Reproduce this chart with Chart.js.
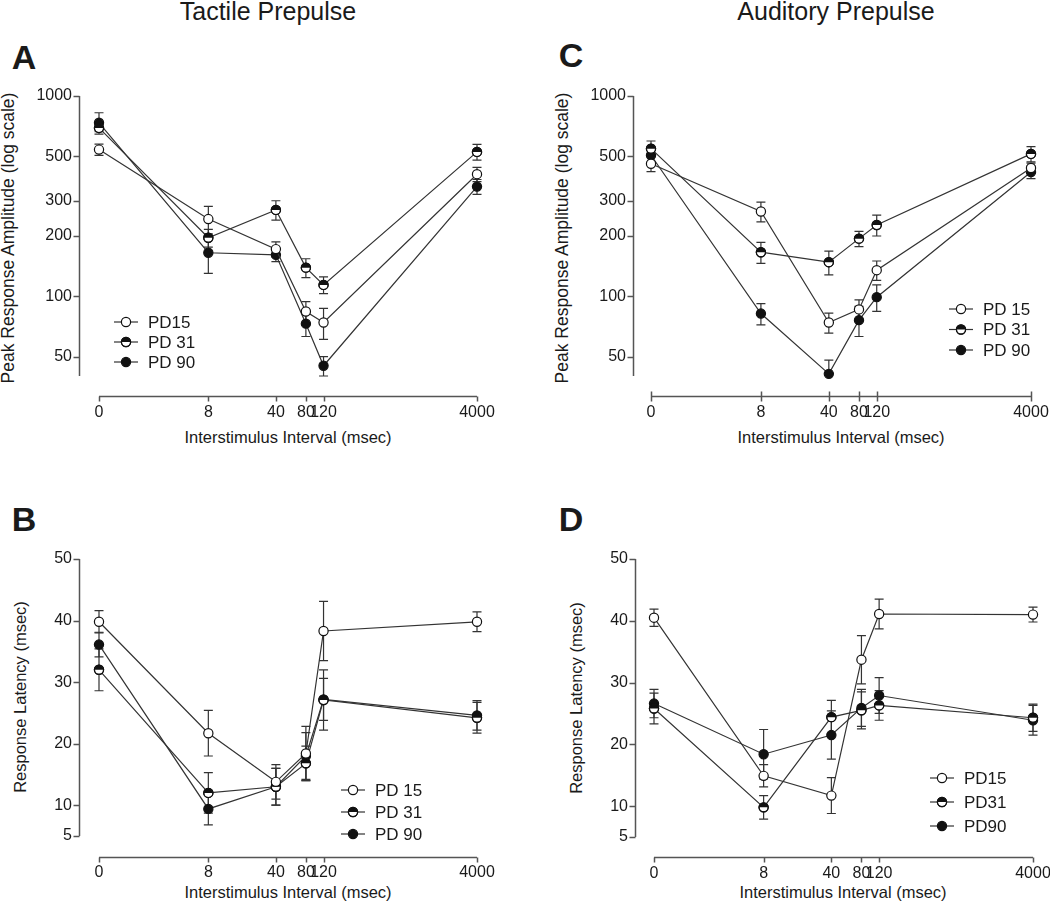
<!DOCTYPE html>
<html>
<head>
<meta charset="utf-8">
<script src="https://cdn.jsdelivr.net/npm/chart.js@4.4.1/dist/chart.umd.min.js"></script>
<style>
body { margin: 0; background: #fff; }
#fig { position: relative; width: 1050px; height: 905px; overflow: hidden;
       font-family: 'Liberation Sans', Arial, sans-serif; color: #1a1a1a; }
.cv { position: absolute; }
.t { position: absolute; white-space: nowrap; transform: translate(-50%, -50%); line-height: 1; }
.head { font-size: 25px; }
.let { font-size: 34px; font-weight: bold; }
.ax { font-size: 16.5px; }
.big { font-size: 17.5px; }
.rot { transform: translate(-50%, -50%) rotate(-90deg); }
</style>
</head>
<body>
<div id="fig">
  <div class="t head" style="left:268px;top:11px">Tactile Prepulse</div>
  <div class="t head" style="left:836px;top:11px">Auditory Prepulse</div>

  <div class="t let" style="left:24px;top:57px">A</div>
  <div class="t let" style="left:571px;top:55px">C</div>
  <div class="t let" style="left:24px;top:519px">B</div>
  <div class="t let" style="left:571px;top:519px">D</div>

  <div class="t ax big rot" style="left:9px;top:238px">Peak Response Amplitude (log scale)</div>
  <div class="t ax big rot" style="left:563px;top:238px">Peak Response Amplitude (log scale)</div>
  <div class="t ax rot" style="left:20px;top:697px">Response Latency (msec)</div>
  <div class="t ax rot" style="left:576px;top:698px">Response Latency (msec)</div>

  <div class="t ax" style="left:288px;top:437px">Interstimulus Interval (msec)</div>
  <div class="t ax" style="left:841px;top:437px">Interstimulus Interval (msec)</div>
  <div class="t ax" style="left:288px;top:892px">Interstimulus Interval (msec)</div>
  <div class="t ax" style="left:843px;top:892px">Interstimulus Interval (msec)</div>

  <canvas id="chA" class="cv"></canvas>
  <canvas id="chC" class="cv"></canvas>
  <canvas id="chB" class="cv"></canvas>
  <canvas id="chD" class="cv"></canvas>
</div>

<script>
// ====== Data ======
const isi = [0, 8, 40, 80, 120, 4000];
const ampTicks = [50, 100, 200, 300, 500, 1000];
const latTicks = [5, 10, 20, 30, 40, 50];

// A - tactile, peak amplitude
const tacAmp15 = [540, 243, 172, 84, 74, 407];
const tacAmp31 = [693, 196, 270, 139, 114, 526];
const tacAmp90 = [735, 165, 161, 73, 45, 353];
const tacAmp15Err = [35, 38, 15, 10, 13, 33];
const tacAmp31Err = [30, 20, 30, 15, 11, 48];
const tacAmp90Err = [90, 35, 12, 10, 5, 30];

// B - tactile, latency
const tacLat15 = [39.8, 21.7, 13.8, 18.4, 38.3, 39.8];
const tacLat31 = [32.0, 12.0, 13.0, 16.8, 27.1, 24.2];
const tacLat90 = [36.1, 9.4, 13.0, 18.0, 27.2, 24.6];
const tacLat15Err = [1.8, 3.7, 2.8, 4.4, 4.8, 1.6];
const tacLat31Err = [3.4, 3.3, 3.0, 2.8, 4.9, 2.5];
const tacLat90Err = [2.0, 2.6, 3.0, 3.8, 3.4, 2.4];

// C - auditory, peak amplitude
const audAmp15 = [459, 265, 74, 86, 135, 437];
const audAmp31 = [546, 166, 148, 194, 227, 514];
const audAmp90 = [506, 82, 41, 76, 99, 417];
const audAmp15Err = [40, 30, 8.5, 10, 15, 25];
const audAmp31Err = [50, 20, 20, 17, 27, 45];
const audAmp90Err = [40, 10, 7, 13, 15, 30];

// D - auditory, latency
const audLat15 = [40.5, 14.9, 11.7, 33.7, 41.1, 41.0];
const audLat31 = [25.8, 9.8, 24.4, 25.5, 26.3, 24.3];
const audLat90 = [26.6, 18.4, 21.5, 25.9, 27.9, 23.9];
const audLat15Err = [1.4, 1.8, 2.9, 3.9, 2.4, 1.2];
const audLat31Err = [2.5, 1.9, 2.7, 3.0, 2.4, 2.2];
const audLat90Err = [2.3, 4.0, 3.9, 3.0, 2.9, 2.4];

Chart.defaults.font.family = "'Liberation Sans', Arial, sans-serif";
Chart.defaults.font.size = 16;
Chart.defaults.color = '#1a1a1a';

// ====== ISI axis: compressed log-like spacing ======
const WARP = 0.72;
const warp = v => Math.log((v + WARP) / WARP);
class IsiScale extends Chart.LinearScale {
    buildTicks() { return isi.map(v => ({ value: v })); }
    getPixelForValue(v) {
        return this.getPixelForDecimal(warp(v) / warp(this.max));
    }
    getValueForPixel(p) {
        const d = this.getDecimalForPixel(p) * warp(this.max);
        return WARP * Math.exp(d) - WARP;
    }
}
IsiScale.id = 'isi';
IsiScale.defaults = Chart.LinearScale.defaults;
Chart.register(IsiScale);

// ====== Markers ======
const R = 4.6;
const marks = [
    { bg: '#fff', half: false },
    { bg: '#fff', half: true },
    { bg: '#111', half: false }
];

function topHalf(ctx, x, y) {
    ctx.save();
    ctx.beginPath();
    ctx.arc(x, y, R, Math.PI, 2 * Math.PI);
    ctx.closePath();
    ctx.fillStyle = '#111';
    ctx.fill();
    ctx.beginPath();
    ctx.arc(x, y, R, 0, 2 * Math.PI);
    ctx.lineWidth = 1.2;
    ctx.strokeStyle = '#111';
    ctx.stroke();
    ctx.restore();
}

// ====== Axes, error bars, legend (Prism look) ======
const prism = {
    id: 'prism',
    beforeDatasetsDraw(chart, args, o) {
        const ctx = chart.ctx, y = chart.scales.y, a = chart.chartArea;
        ctx.save();
        ctx.beginPath();
        ctx.rect(0, a.top - 1, chart.width, a.bottom - a.top + 2);
        ctx.clip();
        ctx.strokeStyle = '#333';
        ctx.lineWidth = 1.2;
        chart.data.datasets.forEach((ds, di) => {
            const meta = chart.getDatasetMeta(di);
            ds.data.forEach((p, i) => {
                const e = ds.errors[i];
                if (!e) return;
                const px = meta.data[i].x;
                const top = y.getPixelForValue(p.y + e);
                const bot = y.getPixelForValue(Math.max(p.y - e, y.min * 0.5));
                ctx.beginPath();
                ctx.moveTo(px, top); ctx.lineTo(px, bot);
                ctx.moveTo(px - 4.5, top); ctx.lineTo(px + 4.5, top);
                ctx.moveTo(px - 4.5, bot); ctx.lineTo(px + 4.5, bot);
                ctx.stroke();
            });
        });
        ctx.restore();
    },
    afterDatasetDraw(chart, args) {
        const ds = chart.data.datasets[args.index];
        if (!ds.half) return;
        args.meta.data.forEach(pt => topHalf(chart.ctx, pt.x, pt.y));
    },
    afterDraw(chart, args, o) {
        const ctx = chart.ctx, x = chart.scales.x, y = chart.scales.y, a = chart.chartArea;
        ctx.save();
        ctx.strokeStyle = '#555';
        ctx.lineWidth = 1.5;
        // y axis
        const ax = Math.round(a.left - o.yGap) + 0.5;
        ctx.beginPath();
        ctx.moveTo(ax, y.getPixelForValue(y.max));
        ctx.lineTo(ax, y.getPixelForValue(y.min));
        y.ticks.forEach(t => {
            const py = Math.round(y.getPixelForValue(t.value)) + 0.5;
            ctx.moveTo(ax - 6, py); ctx.lineTo(ax, py);
        });
        ctx.stroke();
        // x axis
        const ay = Math.round(a.bottom + o.xGap) + 0.5;
        ctx.beginPath();
        ctx.moveTo(x.getPixelForValue(x.min), ay);
        ctx.lineTo(x.getPixelForValue(x.max), ay);
        x.ticks.forEach(t => {
            const px = Math.round(x.getPixelForValue(t.value)) + 0.5;
            ctx.moveTo(px, ay + 5); ctx.lineTo(px, o.tickBoth ? ay - 5 : ay);
        });
        ctx.stroke();
        // legend
        const L = o.legend;
        ctx.font = "17px 'Liberation Sans', Arial, sans-serif";
        ctx.textBaseline = 'middle';
        chart.data.datasets.forEach((ds, i) => {
            const ly = L.y + i * L.gap;
            ctx.strokeStyle = '#333';
            ctx.lineWidth = 1.2;
            ctx.beginPath();
            ctx.moveTo(L.x, ly); ctx.lineTo(L.x + 24, ly);
            ctx.stroke();
            ctx.fillStyle = ds.pointBackgroundColor;
            ctx.strokeStyle = '#111';
            Chart.helpers.drawPoint(ctx, { pointStyle: 'circle', radius: R, borderWidth: 1.2, rotation: 0 }, L.x + 12, ly);
            if (ds.half) topHalf(ctx, L.x + 12, ly);
            ctx.fillStyle = '#1a1a1a';
            ctx.fillText(ds.label, L.x + 34, ly + 1);
        });
        ctx.restore();
    }
};

// ====== Panel factory ======
function panel(id, box, area, yCfg, series, labels, gaps, legend) {
    const cv = document.getElementById(id);
    cv.style.left = box.left + 'px';
    cv.style.top = box.top + 'px';
    cv.width = box.w; cv.height = box.h;
    cv.style.width = box.w + 'px'; cv.style.height = box.h + 'px';

    const datasets = series.map((s, i) => ({
        label: labels[i],
        data: isi.map((v, k) => ({ x: v, y: s.vals[k] })),
        errors: s.err,
        half: marks[i].half,
        borderColor: '#333',
        borderWidth: 1.2,
        pointStyle: 'circle',
        pointBackgroundColor: marks[i].bg,
        pointBorderColor: '#111',
        pointBorderWidth: 1.2,
        pointRadius: R,
        pointHoverRadius: R,
        tension: 0,
        fill: false,
        clip: false
    }));

    return new Chart(cv, {
        type: 'line',
        data: { datasets },
        plugins: [prism],
        options: {
            responsive: false,
            animation: false,
            events: [],
            layout: { padding: { left: 0, top: area.top - box.top, right: box.left + box.w - area.right, bottom: 0 } },
            plugins: {
                legend: { display: false },
                tooltip: { enabled: false },
                prism: { yGap: gaps.y, xGap: gaps.x, tickBoth: gaps.both, legend }
            },
            scales: {
                x: {
                    type: 'isi',
                    min: 0, max: 4000,
                    grid: { display: false, drawTicks: false },
                    border: { display: false },
                    ticks: { autoSkip: false, maxRotation: 0, minRotation: 0, padding: 27,
                             callback: v => String(v) },
                    afterFit: s => { s.height = box.top + box.h - area.bottom; s.paddingLeft = 0; s.paddingRight = 0; }
                },
                y: {
                    type: yCfg.type,
                    min: yCfg.min, max: yCfg.max,
                    grid: { display: false, drawTicks: false },
                    border: { display: false },
                    ticks: { autoSkip: false, padding: gaps.y + 7, callback: v => String(v) },
                    afterBuildTicks: s => { s.ticks = yCfg.ticks.map(v => ({ value: v })); },
                    afterFit: s => { s.width = area.left - box.left; s.paddingTop = 0; s.paddingBottom = 0; }
                }
            }
        }
    });
}

const ampAxis = { type: 'logarithmic', min: 40, max: 1000, ticks: ampTicks };
const latAxis = { type: 'linear', min: 5, max: 50, ticks: latTicks };

panel('chA', { left: 0, top: 70, w: 525, h: 380 }, { left: 99, right: 477, top: 96, bottom: 376 }, ampAxis,
    [{ vals: tacAmp15, err: tacAmp15Err }, { vals: tacAmp31, err: tacAmp31Err }, { vals: tacAmp90, err: tacAmp90Err }],
    ['PD15', 'PD 31', 'PD 90'], { y: 20, x: 20, both: false }, { x: 114, y: 252, gap: 20 });

panel('chC', { left: 540, top: 70, w: 510, h: 380 }, { left: 651, right: 1031, top: 96, bottom: 376 }, ampAxis,
    [{ vals: audAmp15, err: audAmp15Err }, { vals: audAmp31, err: audAmp31Err }, { vals: audAmp90, err: audAmp90Err }],
    ['PD 15', 'PD 31', 'PD 90'], { y: 18, x: 20, both: true }, { x: 409, y: 239, gap: 20.5 });

panel('chB', { left: 0, top: 530, w: 525, h: 375 }, { left: 99, right: 477, top: 559, bottom: 836 }, latAxis,
    [{ vals: tacLat15, err: tacLat15Err }, { vals: tacLat31, err: tacLat31Err }, { vals: tacLat90, err: tacLat90Err }],
    ['PD 15', 'PD 31', 'PD 90'], { y: 20, x: 21, both: false }, { x: 341, y: 260, gap: 22 });

panel('chD', { left: 540, top: 530, w: 510, h: 375 }, { left: 654, right: 1033, top: 559, bottom: 837 }, latAxis,
    [{ vals: audLat15, err: audLat15Err }, { vals: audLat31, err: audLat31Err }, { vals: audLat90, err: audLat90Err }],
    ['PD15', 'PD31', 'PD90'], { y: 19, x: 20, both: false }, { x: 390, y: 248, gap: 24 });
</script>
</body>
</html>
